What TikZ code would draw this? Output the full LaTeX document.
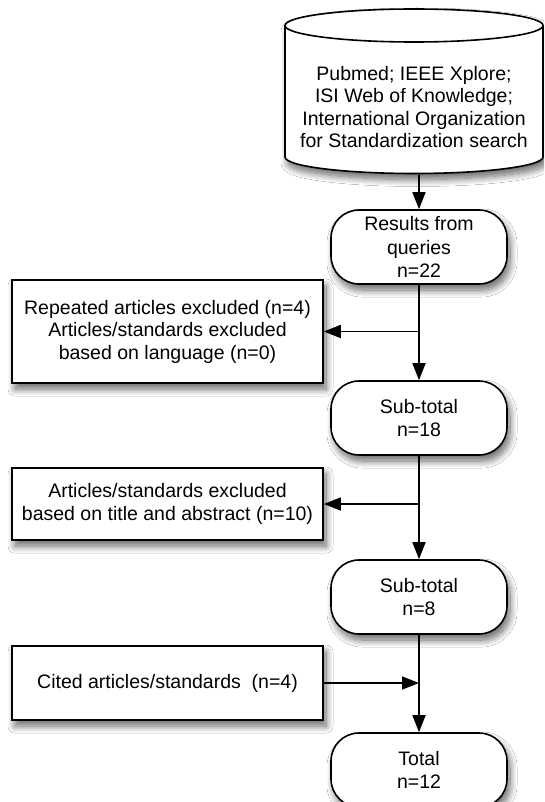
\documentclass[tikz,border=0pt]{standalone}
\usepackage{fontspec}
\setmainfont{Liberation Sans}
\usetikzlibrary{arrows.meta,shadows.blur}

\begin{document}
\begin{tikzpicture}[x=1pt,y=-1pt,
  lw/.style={line width=1.6pt},
  softshadow/.style={blur shadow={shadow xshift=3pt, shadow yshift=-6pt,
      shadow blur radius=7pt, shadow blur steps=12, shadow opacity=60}},
  txt/.style={font=\fontsize{19.5}{22.5}\selectfont, align=center},
  rnd/.style={txt, lw, draw, fill=white, softshadow, rounded corners=28pt,
      minimum width=176pt, minimum height=74pt, inner sep=2pt,
      font=\fontsize{19.5}{23.5}\selectfont},
  sq/.style={txt, lw, draw, fill=white, softshadow, minimum width=311pt,
      inner sep=2pt},
  arr/.style={lw, -{Triangle[length=17pt,width=13pt,fill=black]}}]

\clip (0,0) rectangle (544,802);
\fill[white] (0,0) rectangle (544,802);

% database cylinder
\path[lw, draw, fill=white, softshadow]
  (285,25.5) -- (285,157)
  arc[start angle=180, end angle=360, x radius=129pt, y radius=16.5pt]
  -- (543,25.5)
  arc[start angle=0, end angle=180, x radius=129pt, y radius=16.5pt]
  -- cycle;
\draw[lw] (285,25.5)
  arc[start angle=180, end angle=360, x radius=129pt, y radius=16.5pt];
\node[txt] (db) at (414,107) {Pubmed; IEEE Xplore;\\ISI Web of Knowledge;\\International Organization\\for Standardization search};
\coordinate (dbout) at (419,175);

% main column
\node[rnd] (res) at (419,247) {Results from\\queries\\n=22};
\node[rnd] (s1)  at (419,418) {Sub-total\\n=18};
\node[rnd] (s2)  at (419,597) {Sub-total\\n=8};
\node[rnd] (tot) at (419,770) {Total\\n=12};

% side boxes
\node[sq, minimum height=103pt] (b1) at (167.5,331.5)
  {Repeated articles excluded (n=4)\\Articles/standards excluded\\based on language (n=0)};
\node[sq, minimum height=72pt] (b2) at (167.5,504)
  {Articles/standards excluded\\based on title and abstract (n=10)};
\node[sq, minimum height=74pt] (b3) at (167.5,683)
  {Cited articles/standards\ \ (n=4)};

% branch points on the main line
\coordinate (j1) at (419,331.5);
\coordinate (j2) at (419,504);
\coordinate (j3) at (419,683);

% connectors
\draw[arr] (dbout) -- (res.north);
\draw[arr] (res.south) -- (s1.north);
\draw[arr] (j1) -- (b1.east);
\draw[arr] (s1.south) -- (s2.north);
\draw[arr] (j2) -- (b2.east);
\draw[arr] (s2.south) -- (tot.north);
\draw[arr] (b3.east) -- (j3);
\end{tikzpicture}
\end{document}
